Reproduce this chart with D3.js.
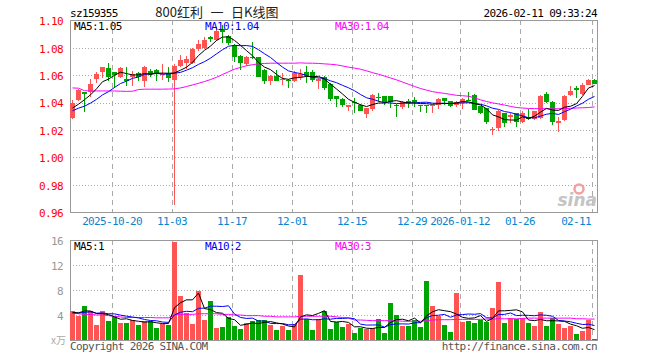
<!DOCTYPE html>
<html><head><meta charset="utf-8">
<script src="https://cdn.jsdelivr.net/npm/d3@7/dist/d3.min.js"></script>
<style>
html,body{margin:0;padding:0;background:#fff;}
svg text{font-family:"DejaVu Sans Mono","Liberation Mono",monospace;}
</style></head>
<body><svg id="c" width="660" height="360"></svg>
<script>
// ---------- data ----------
const dates = [
"2025-10-09","2025-10-10","2025-10-13","2025-10-14","2025-10-15","2025-10-16","2025-10-17",
"2025-10-20","2025-10-21","2025-10-22","2025-10-23","2025-10-24","2025-10-27","2025-10-28","2025-10-29","2025-10-30","2025-10-31",
"2025-11-03","2025-11-04","2025-11-05","2025-11-06","2025-11-07","2025-11-10","2025-11-11","2025-11-12","2025-11-13","2025-11-14",
"2025-11-17","2025-11-18","2025-11-19","2025-11-20","2025-11-21","2025-11-24","2025-11-25","2025-11-26","2025-11-27","2025-11-28",
"2025-12-01","2025-12-02","2025-12-03","2025-12-04","2025-12-05","2025-12-08","2025-12-09","2025-12-10","2025-12-11","2025-12-12",
"2025-12-15","2025-12-16","2025-12-17","2025-12-18","2025-12-19","2025-12-22","2025-12-23","2025-12-24","2025-12-25","2025-12-26",
"2025-12-29","2025-12-30","2025-12-31","2026-01-05","2026-01-06","2026-01-07","2026-01-08","2026-01-09",
"2026-01-12","2026-01-13","2026-01-14","2026-01-15","2026-01-16","2026-01-19","2026-01-20","2026-01-21","2026-01-22","2026-01-23",
"2026-01-26","2026-01-27","2026-01-28","2026-01-29","2026-01-30","2026-02-02","2026-02-03","2026-02-04","2026-02-05","2026-02-06",
"2026-02-09","2026-02-10","2026-02-11"];

const opens = [1.029,1.042,1.0475,1.0475,1.057,1.062,1.065,1.062,1.059,1.0575,
1.0585,1.0614,1.0555,1.0634,1.0639,1.0605,1.0614,1.0565,1.067,1.069,
1.069,1.079,1.080,1.0882,1.0858,1.094,1.089,1.0823,1.0743,1.0683,
1.0735,1.073,1.064,1.0555,1.0595,1.057,1.0565,1.056,1.0585,1.062,
1.0621,1.056,1.059,1.0537,1.0447,1.0428,1.0368,1.0405,1.0385,1.0315,
1.0350,1.0442,1.0447,1.0447,1.0382,1.0370,1.0410,1.0418,1.0382,1.0380,
1.0374,1.0385,1.0433,1.0409,1.0384,1.0396,1.0420,1.0458,1.0372,1.0360,
1.0200,1.0212,1.0323,1.0294,1.0323,1.0261,1.0298,1.0279,1.0286,1.0463,
1.0401,1.0250,1.0269,1.0458,1.0507,1.0465,1.0531,1.0568];
const highs = [1.042,1.050,1.048,1.057,1.062,1.066,1.069,1.0625,1.066,1.066,
1.0634,1.0625,1.067,1.0642,1.0642,1.068,1.066,1.068,1.075,1.074,
1.080,1.0858,1.088,1.089,1.095,1.097,1.0895,1.083,1.075,1.074,
1.0845,1.0735,1.0645,1.060,1.064,1.0615,1.0575,1.063,1.0645,1.067,
1.0635,1.058,1.0597,1.054,1.0447,1.0437,1.0383,1.0435,1.0388,1.0358,
1.0462,1.0468,1.0450,1.0450,1.0386,1.0412,1.0425,1.0440,1.0385,1.0385,
1.0380,1.0432,1.0435,1.0412,1.0410,1.0432,1.0475,1.0463,1.0375,1.0362,
1.0225,1.0348,1.0326,1.0323,1.0326,1.0335,1.0355,1.0340,1.0458,1.0477,
1.0415,1.0298,1.0458,1.0518,1.0518,1.0543,1.0573,1.0573];
const lows = [1.028,1.041,1.033,1.044,1.054,1.058,1.056,1.051,1.058,1.052,
1.0524,1.0556,1.0517,1.0585,1.0556,1.0565,1.055,0.965,1.066,1.0645,
1.0685,1.078,1.079,1.084,1.085,1.0835,1.082,1.0694,1.064,1.067,
1.072,1.0585,1.0537,1.0525,1.0555,1.0525,1.051,1.055,1.0565,1.054,
1.055,1.050,1.0495,1.041,1.0366,1.0366,1.0342,1.0325,1.0335,1.029,
1.034,1.0405,1.038,1.036,1.0295,1.0355,1.036,1.0368,1.0330,1.0325,
1.0325,1.0352,1.038,1.0365,1.0370,1.0355,1.0410,1.0343,1.0318,1.0244,
1.016,1.0195,1.0225,1.0249,1.0225,1.0249,1.0272,1.0275,1.0279,1.0398,
1.0236,1.0188,1.0263,1.0450,1.043,1.0458,1.0526,1.0534];
const closes = [1.040,1.049,1.0465,1.0537,1.061,1.066,1.0585,1.0605,1.065,1.056,
1.061,1.0585,1.0658,1.061,1.0612,1.0612,1.058,1.0668,1.0712,1.072,
1.079,1.083,1.0858,1.0866,1.0925,1.0915,1.0835,1.0731,1.0687,1.0731,
1.0728,1.059,1.056,1.0595,1.056,1.0575,1.056,1.0614,1.061,1.0597,
1.0565,1.0575,1.0507,1.0427,1.0424,1.0381,1.0380,1.0398,1.0338,1.0357,
1.0455,1.0435,1.0401,1.0401,1.0378,1.0405,1.0400,1.0403,1.0376,1.0376,
1.0380,1.0425,1.0409,1.0375,1.0401,1.0426,1.0415,1.0347,1.0323,1.0261,
1.0206,1.034,1.0249,1.0306,1.0261,1.0323,1.0279,1.0335,1.045,1.0401,
1.0261,1.0267,1.045,1.0487,1.0495,1.0531,1.0568,1.0539];
// volume, 万手
const volumes = [4.6,3.9,5.5,4.7,2.45,4.57,3.1,3.7,2.8,2.8,
3.25,2.45,3.0,3.1,2.0,2.6,2.45,15.7,7.07,4.3,
2.6,7.9,3.25,6.3,1.86,2.1,3.7,2.3,1.8,2.7,
3.1,3.25,3.25,2.45,1.65,2.2,1.65,2.55,10.4,3.35,
1.65,3.35,4.7,1.8,2.9,2.1,2.55,1.2,1.85,1.75,
1.85,3.4,1.17,5.85,4.0,2.2,2.2,3.25,2.1,9.5,
5.5,3.9,2.45,1.33,7.55,2.9,3.1,2.8,3.2,2.9,
5.15,9.3,2.8,3.55,3.35,3.5,2.8,2.3,4.5,2.3,
3.55,2.6,1.97,2.3,1.0,1.5,3.25,0.2];
// closes/volumes before the visible window (estimated from the MA start levels)
const priorCloses = [1.030,1.032,1.031,1.034,1.033,1.035,1.030,1.036,1.039];
const priorVolumes = [4.0,4.5,3.8,4.6,4.2,4.4,3.9,4.8,4.5];
// 30-day MA lines
const ma30Price = [1.0507,1.0505,1.0487,1.0485,1.0485,1.0485,1.0485,1.0485,1.0483,1.0482,
1.0483,1.0495,1.0498,1.0498,1.0498,1.0498,1.0499,1.0500,1.0507,1.0517,
1.0529,1.0541,1.0554,1.0568,1.0585,1.0605,1.0625,1.0644,1.0657,1.0669,
1.0677,1.0683,1.0686,1.0688,1.0688,1.0688,1.0688,1.0688,1.0690,1.0688,
1.0688,1.0686,1.0683,1.0680,1.0676,1.0668,1.0659,1.0652,1.0644,1.0632,
1.0619,1.0607,1.0594,1.0580,1.0566,1.0550,1.0534,1.0518,1.0503,1.0491,
1.0480,1.0473,1.0467,1.0460,1.0453,1.0450,1.0446,1.0435,1.0420,1.0408,
1.0398,1.0390,1.0382,1.0372,1.0364,1.0360,1.0357,1.0356,1.0355,1.0355,
1.0355,1.0355,1.0356,1.0358,1.0360,1.0362,1.0364,1.0368];
const ma30Vol = [4.3,4.2,4.1,4.1,4.0,4.0,3.9,3.8,3.7,3.6,
3.6,3.6,3.6,3.6,3.55,3.55,3.55,4.0,4.1,4.1,
4.1,4.2,4.2,4.2,4.2,4.1,4.1,4.0,4.0,3.9,
3.9,3.9,3.8,3.8,3.7,3.7,3.7,3.7,3.8,3.8,
3.8,3.8,3.8,3.8,3.7,3.6,3.5,3.2,3.2,3.15,
3.1,3.1,3.1,3.1,3.1,3.0,3.0,3.0,3.0,3.1,
3.2,3.25,3.25,3.25,3.3,3.3,3.3,3.3,3.3,3.35,
3.35,3.4,3.4,3.4,3.4,3.45,3.5,3.5,3.5,3.5,
3.5,3.5,3.5,3.5,3.4,3.4,3.35,3.35];

const priceTicks = [0.96,0.98,1.00,1.02,1.04,1.06,1.08,1.10];
const volTicks = [4,8,12,16];
const tickDates = ["2025-10-20","2025-11-03","2025-11-17","2025-12-01","2025-12-15","2025-12-29","2026-01-12","2026-01-26","2026-02-11"];
const tickLabels = ["2025-10-20","11-03","11-17","12-01","12-15","12-29","2026-01-12","01-26","02-11"];
const code = "sz159355";
const titleParts = ["800红利", "一", "日K线图"];
const stamp = "2026-02-11 09:33:24";

// ---------- helpers ----------
function movingAvg(arr, prior, n){
  const all = prior.concat(arr);
  return arr.map((_, i) => d3.mean(all.slice(i + prior.length - n + 1, i + prior.length + 1)));
}
const ma5 = movingAvg(closes, priorCloses, 5);
const ma10 = movingAvg(closes, priorCloses, 10);
const vma5 = movingAvg(volumes, priorVolumes, 5);
const vma10 = movingAvg(volumes, priorVolumes, 10);

const RED = "#ff5454", GREEN = "#00a400";
const svg = d3.select("#c");
svg.append("rect").attr("width",660).attr("height",360).attr("fill","#fff");

const L = 70, R = 597;
const x = d3.scaleBand().domain(dates).range([L, L + 6*dates.length]).padding(0);
const bw = x.bandwidth() - 1;
const yP = d3.scaleLinear().domain([0.96, 1.10]).range([212, 20.5]);
const yV = d3.scaleLinear().domain([0, 16]).range([340, 240]);

const font = (sel, size) => sel.style("font-size", size + "px").style("letter-spacing", "-0.65px");

// ---------- grid ----------
function panel(y0, y1, ys, yScale){
  const g = svg.append("g").attr("shape-rendering","crispEdges");
  g.selectAll("line.h").data(ys).join("line")
    .attr("x1", L).attr("x2", R)
    .attr("y1", d => Math.round(yScale(d)) + 0.5).attr("y2", d => Math.round(yScale(d)) + 0.5)
    .attr("stroke", "#aaa").attr("stroke-dasharray", "1,2");
  g.selectAll("line.v").data(tickDates).join("line")
    .attr("x1", d => x(d) + 0.5).attr("x2", d => x(d) + 0.5)
    .attr("y1", y0).attr("y2", y1)
    .attr("stroke", "#aaa").attr("stroke-dasharray", "5,4");
  g.append("rect").attr("x", L + 0.5).attr("y", y0 + 0.5).attr("width", R - L).attr("height", y1 - y0)
    .attr("fill", "none").attr("stroke", "#999");
}
panel(20, 212, priceTicks.filter(d => d > 0.96 && d < 1.10), yP);
panel(240, 340, volTicks.filter(d => d < 16), yV);

// ---------- axes ----------
const ax = svg.append("g").attr("transform", `translate(${L-4},0)`)
  .call(d3.axisLeft(yP).tickValues(priceTicks).tickSize(0).tickFormat(d3.format(".2f")));
ax.select(".domain").remove();
ax.selectAll("text").attr("fill", "#f00").attr("dy", "0.4em").call(s => font(s, 11));

const av = svg.append("g").attr("transform", `translate(${L-4},0)`)
  .call(d3.axisLeft(yV).tickValues(volTicks).tickSize(0).tickFormat(d3.format("d")));
av.select(".domain").remove();
av.selectAll("text").attr("fill", "#999").attr("dy", "0.4em").call(s => font(s, 11));
svg.append("text").attr("x", L-4).attr("y", 344).attr("text-anchor","end")
  .attr("fill","#aaa").style("font-family","'Noto Sans CJK SC'").style("font-size","10px").text("x万");

// x tick labels
svg.append("g").selectAll("text").data(tickDates).join("text")
  .each(function(d, i){
    const lab = tickLabels[i];
    const cx = x(d);
    const w = lab.length * 6;
    const s = d3.select(this);
    if (cx + w/2 > R - 4) s.attr("x", R - 6).attr("text-anchor", "end");
    else s.attr("x", cx).attr("text-anchor", "middle");
    s.text(lab);
  })
  .attr("y", 225).attr("fill", "#0a84d0").call(s => font(s, 11));

// ---------- candles ----------
const cg = svg.append("g").attr("shape-rendering","crispEdges");
dates.forEach((d, i) => {
  const up = closes[i] >= opens[i];
  const col = up ? RED : GREEN;
  const x0 = x(d);
  const yh = Math.round(yP(highs[i])), yl = Math.round(yP(lows[i]));
  cg.append("rect").attr("x", x0 + 2).attr("y", yh).attr("width", 1).attr("height", Math.max(1, yl - yh)).attr("fill", col);
  const yt = Math.round(yP(Math.max(opens[i], closes[i]))), yb = Math.round(yP(Math.min(opens[i], closes[i])));
  cg.append("rect").attr("x", x0).attr("y", yt).attr("width", bw).attr("height", Math.max(1, yb - yt)).attr("fill", col);
  const yv = Math.round(yV(volumes[i]));
  cg.append("rect").attr("x", x0).attr("y", yv).attr("width", bw).attr("height", 340 - yv).attr("fill", col);
});

// ---------- MA lines ----------
function maLine(vals, yScale, color){
  svg.append("path").datum(vals)
    .attr("d", d3.line().x((v, i) => x(dates[i]) + bw/2).y(v => yScale(v)))
    .attr("fill", "none").attr("stroke", color).attr("stroke-width", 1);
}
maLine(ma30Price, yP, "#ff00ff");
maLine(ma10, yP, "#0000ff");
maLine(ma5, yP, "#000");
maLine(ma30Vol, yV, "#ff00ff");
maLine(vma10, yV, "#0000ff");
maLine(vma5, yV, "#000");

// ---------- legends ----------
const f2 = d3.format(".2f");
const last = a => a[a.length - 1];
const legend = (y, items) => items.forEach(([t, c, xx]) =>
  svg.append("text").attr("x", xx).attr("y", y).attr("fill", c).text(t).call(s => font(s, 11)));
legend(30, [["MA5:" + f2(last(ma5)), "#000", 74], ["MA10:" + f2(last(ma10)), "#0000ff", 205], ["MA30:" + f2(last(ma30Price)), "#ff00ff", 335]]);
legend(250, [["MA5:" + Math.floor(last(vma5)), "#000", 74], ["MA10:" + Math.floor(last(vma10)), "#0000ff", 205], ["MA30:" + Math.floor(last(ma30Vol)), "#ff00ff", 335]]);

// ---------- header / footer ----------
svg.append("text").attr("x", 70).attr("y", 17).attr("fill", "#000").text(code).call(s => font(s, 11));
const tf = s => s.attr("fill", "#222").style("font-family", "'Noto Sans CJK SC'").style("font-size", "13px");
svg.append("text").attr("x", 203).attr("y", 17).attr("text-anchor", "end").text(titleParts[0]).call(tf);
svg.append("text").attr("x", 217).attr("y", 17).attr("text-anchor", "middle").text(titleParts[1]).call(tf);
svg.append("text").attr("x", 231).attr("y", 17).attr("text-anchor", "start").text(titleParts[2]).call(tf);
svg.append("text").attr("x", 597).attr("y", 17).attr("text-anchor", "end").attr("fill", "#000").text(stamp).call(s => font(s, 11));
svg.append("text").attr("x", 70).attr("y", 350).attr("fill", "#555").text("Copyright 2026 SINA.COM").call(s => font(s, 11));
svg.append("text").attr("x", 597).attr("y", 350).attr("text-anchor", "end").attr("fill", "#555").text("http://finance.sina.com.cn").call(s => font(s, 11));

// sina watermark
svg.append("circle").attr("cx", 579).attr("cy", 189).attr("r", 4.5).attr("fill", "none").attr("stroke", "#f4a0a0").attr("stroke-width", 2.5);
svg.append("text").attr("x", 597).attr("y", 206).attr("text-anchor", "end").attr("fill", "#c4c4c4")
  .style("font-family", "'DejaVu Sans'").style("font-style", "italic").style("font-weight", "bold").style("font-size", "17px").text("sina");
</script></body></html>
